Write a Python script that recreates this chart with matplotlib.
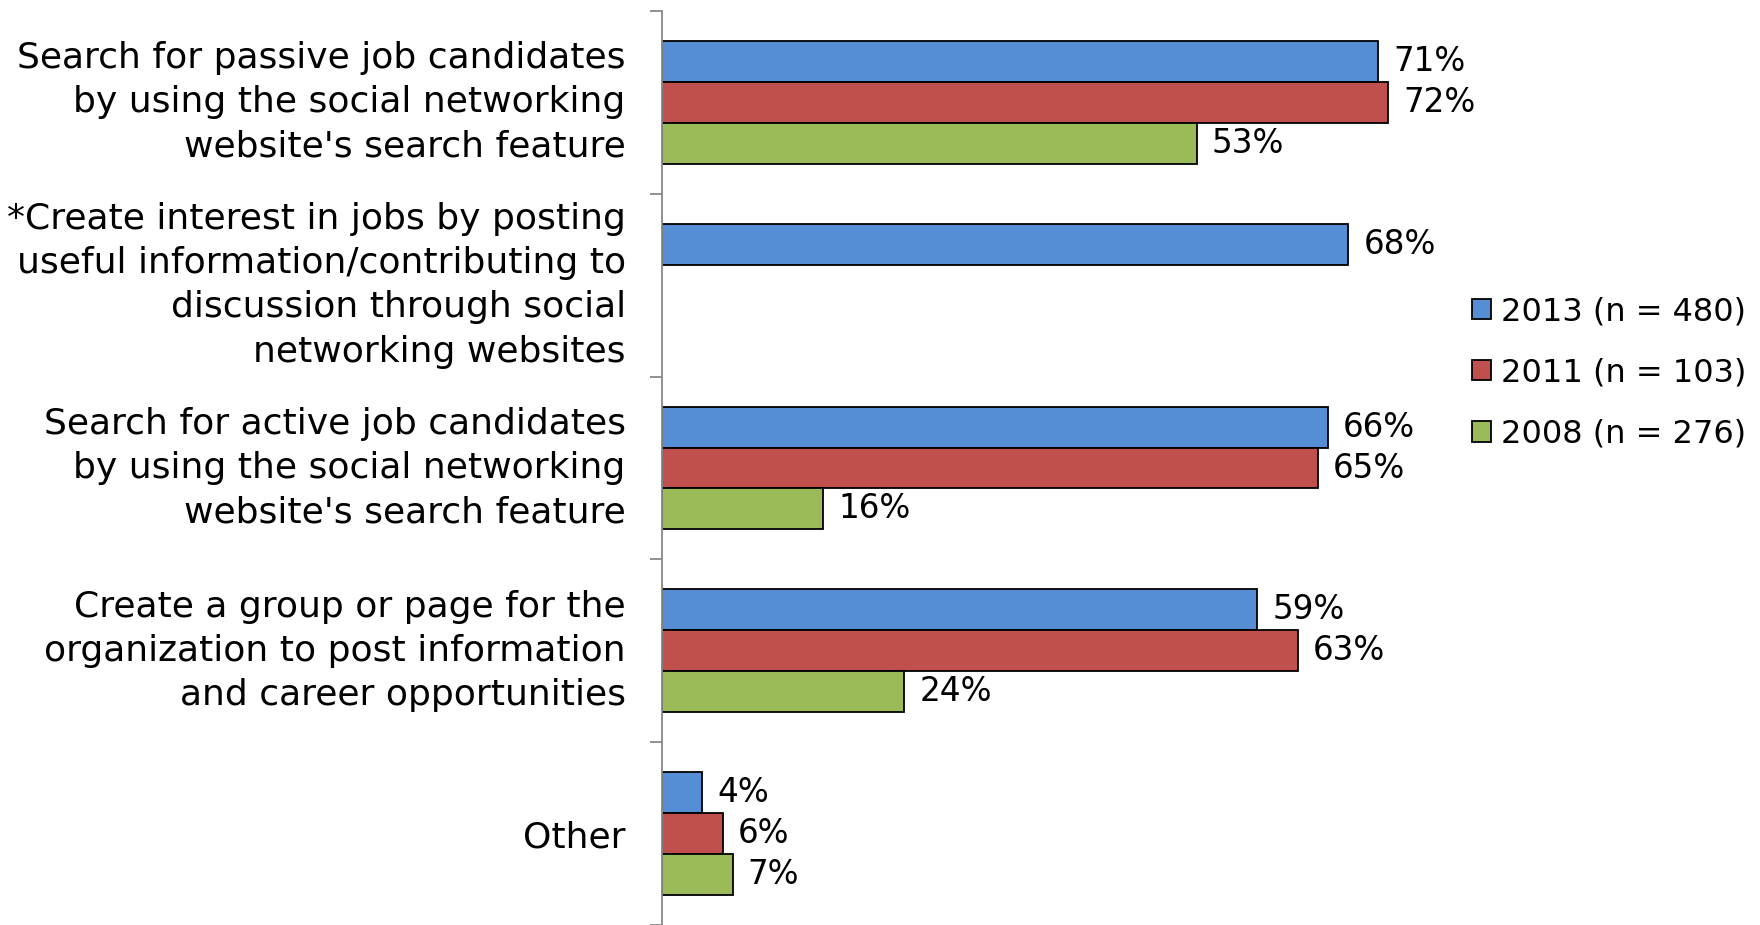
import matplotlib.pyplot as plt
import numpy as np

categories = [
    "Search for passive job candidates\nby using the social networking\nwebsite's search feature",
    "*Create interest in jobs by posting\nuseful information/contributing to\ndiscussion through social\nnetworking websites",
    "Search for active job candidates\nby using the social networking\nwebsite's search feature",
    "Create a group or page for the\norganization to post information\nand career opportunities",
    "Other",
]
series_names = ["2013 (n = 480)", "2011 (n = 103)", "2008 (n = 276)"]
values_2013 = [71, 68, 66, 59, 4]
values_2011 = [72, np.nan, 65, 63, 6]
values_2008 = [53, np.nan, 16, 24, 7]
series_colors = ["#558ED5", "#C0504D", "#9BBB59"]


def plot_recruiting_uses():
    plt.rcParams['font.family'] = ['DejaVu Sans']
    fig = plt.figure(figsize=(17.6, 9.25), dpi=100)
    ax = fig.add_axes([662 / 1760, 0, 1009 / 1760, 914 / 925])

    y = np.arange(len(categories))
    bar_h = 0.224
    all_series = [values_2013, values_2011, values_2008]
    for i, (vals, name, color) in enumerate(zip(all_series, series_names, series_colors)):
        pos = y + (i - 1) * bar_h
        ax.barh(pos, vals, height=bar_h, color=color, edgecolor='black',
                linewidth=1.3, label=name)
        for p, v in zip(pos, vals):
            if not np.isnan(v):
                ax.text(v + 1.5, p, f"{v:.0f}%", va='center', ha='left', fontsize=23.5)

    ax.set_xlim(0, 100)
    ax.set_ylim(len(categories) - 0.5, -0.5)

    # category names to the left of the axis
    for yi, label in zip(y, categories):
        valign = 'center' if '\n' in label else 'center_baseline'
        ax.text(-0.036, yi, label, transform=ax.get_yaxis_transform(),
                ha='right', va=valign, fontsize=26, linespacing=1.38)

    ax.set_yticks([])
    ax.set_yticks(np.arange(len(categories) + 1) - 0.5, minor=True)
    ax.tick_params(axis='y', which='minor', length=9, width=1.3, color='#888888')
    ax.set_xticks([])

    for side in ['top', 'right', 'bottom']:
        ax.spines[side].set_visible(False)
    ax.spines['left'].set_color('#888888')
    ax.spines['left'].set_linewidth(1.3)

    ax.legend(loc='center left', bbox_to_anchor=(1443 / 1760, 1 - 373 / 925),
              bbox_transform=fig.transFigure, frameon=False, fontsize=23,
              handlelength=0.6, handleheight=0.6, handletextpad=0.3,
              labelspacing=0.95)

    fig.savefig('out.png', dpi=100)
    plt.close(fig)


plot_recruiting_uses()
